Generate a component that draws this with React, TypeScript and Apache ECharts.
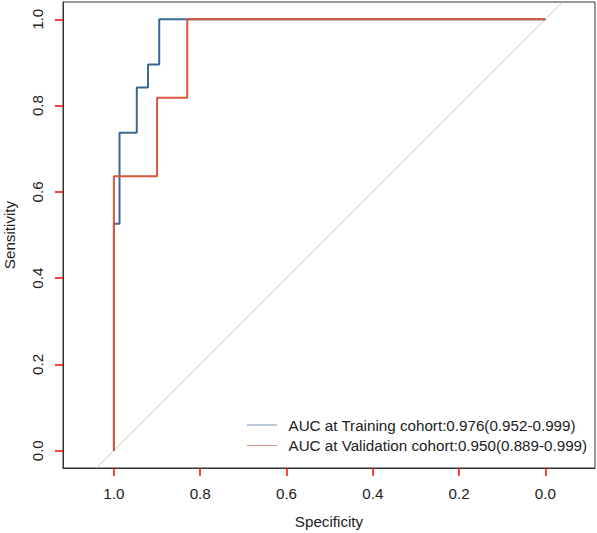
import React, { useEffect, useRef } from "react";
import * as echarts from "echarts";

// Specificity / sensitivity vertices of the ROC step curves
const trainingSpec = [1, 1, 0.987, 0.987, 0.947, 0.947, 0.921, 0.921, 0.895, 0.895, 0.83, 0];
const trainingSens = [0, 0.526, 0.526, 0.737, 0.737, 0.842, 0.842, 0.895, 0.895, 1, 1, 1];
const validationSpec = [1, 1, 0.9, 0.9, 0.83, 0.83, 0];
const validationSens = [0, 0.636, 0.636, 0.818, 0.818, 1, 1];
// reference diagonal (abline) endpoints across the plot box
const diagSpec = [1.04, -0.04];
const diagSens = [-0.04, 1.04];

const tickValues = [0, 0.2, 0.4, 0.6, 0.8, 1.0];
const legendLabels = [
  "AUC at Training cohort:0.976(0.952-0.999)",
  "AUC at Validation cohort:0.950(0.889-0.999)",
];

const FONT = "'Liberation Sans', Arial, Helvetica, sans-serif";
const FS = 15.2;
const BLUE = "#3a6896";
const RED = "#db563f";
const TICK_COLOR = "#ff0000";
const W = 597;
const H = 533;
const GRID = { left: 63, top: 2, right: 2, bottom: 65 };

function zip(a: number[], b: number[]) {
  return a.map((v, i) => [v, b[i]]);
}

export default function App() {
  const ref = useRef<HTMLDivElement>(null);
  useEffect(() => {
    if (!ref.current) return;
    const chart = echarts.init(ref.current, undefined, { renderer: "svg" });
    const boxCx = GRID.left + (W - GRID.left - GRID.right) / 2;
    const boxCy = GRID.top + (H - GRID.top - GRID.bottom) / 2;
    chart.setOption({
      animation: false,
      grid: {
        left: GRID.left,
        top: GRID.top,
        right: GRID.right,
        bottom: GRID.bottom,
        show: true,
        borderColor: "#333333",
        borderWidth: 1,
      },
      xAxis: {
        type: "value",
        inverse: true,
        min: -0.115,
        max: 1.118,
        axisLine: { show: true, onZero: false, lineStyle: { color: "#333333", width: 1 } },
        splitLine: { show: false },
        axisTick: {
          show: true,
          length: 8,
          customValues: tickValues,
          lineStyle: { color: TICK_COLOR, width: 1.5 },
        },
        axisLabel: {
          customValues: tickValues,
          margin: 18,
          fontSize: FS,
          fontFamily: FONT,
          color: "#222222",
          formatter: (v: number) => v.toFixed(1),
        },
      },
      yAxis: {
        type: "value",
        min: -0.04,
        max: 1.04,
        axisLine: { show: true, onZero: false, lineStyle: { color: "#333333", width: 1 } },
        splitLine: { show: false },
        axisTick: {
          show: true,
          length: 8,
          customValues: tickValues,
          lineStyle: { color: TICK_COLOR, width: 1.5 },
        },
        axisLabel: {
          customValues: tickValues,
          rotate: 90,
          align: "center",
          verticalAlign: "bottom",
          margin: 18,
          fontSize: FS,
          fontFamily: FONT,
          color: "#222222",
          formatter: (v: number) => v.toFixed(1),
        },
      },
      series: [
        {
          type: "line",
          name: "diagonal",
          data: zip(diagSpec, diagSens),
          showSymbol: false,
          silent: true,
          lineStyle: { color: "#c8c8c8", width: 1 },
        },
        {
          type: "line",
          name: legendLabels[0],
          data: zip(trainingSpec, trainingSens),
          showSymbol: false,
          lineStyle: { color: BLUE, width: 2 },
          itemStyle: { color: BLUE },
        },
        {
          type: "line",
          name: legendLabels[1],
          data: zip(validationSpec, validationSens),
          showSymbol: false,
          lineStyle: { color: RED, width: 2 },
          itemStyle: { color: RED },
        },
      ],
      graphic: [
        {
          type: "text",
          x: boxCx,
          y: 521,
          style: {
            text: "Specificity",
            font: `${FS}px ${FONT}`,
            fill: "#222222",
            align: "center",
            verticalAlign: "middle",
          },
        },
        {
          type: "text",
          x: 9.5,
          y: boxCy,
          rotation: Math.PI / 2,
          style: {
            text: "Sensitivity",
            font: `${FS}px ${FONT}`,
            fill: "#222222",
            align: "center",
            verticalAlign: "middle",
          },
        },
        {
          type: "line",
          shape: { x1: 247, y1: 425, x2: 277, y2: 425 },
          style: { stroke: "#8aa6c4", lineWidth: 1.2 },
        },
        {
          type: "line",
          shape: { x1: 247, y1: 445.5, x2: 277, y2: 445.5 },
          style: { stroke: "#d69a8e", lineWidth: 1.2 },
        },
        {
          type: "text",
          x: 288.5,
          y: 425,
          style: {
            text: legendLabels[0],
            font: `${FS}px ${FONT}`,
            fill: "#222222",
            align: "left",
            verticalAlign: "middle",
          },
        },
        {
          type: "text",
          x: 288.5,
          y: 445.5,
          style: {
            text: legendLabels[1],
            font: `${FS}px ${FONT}`,
            fill: "#222222",
            align: "left",
            verticalAlign: "middle",
          },
        },
      ],
    });
    return () => chart.dispose();
  }, []);
  return (
    <div
      ref={ref}
      style={{ position: "fixed", left: 0, top: 0, width: W, height: H, background: "#fff" }}
    />
  );
}
